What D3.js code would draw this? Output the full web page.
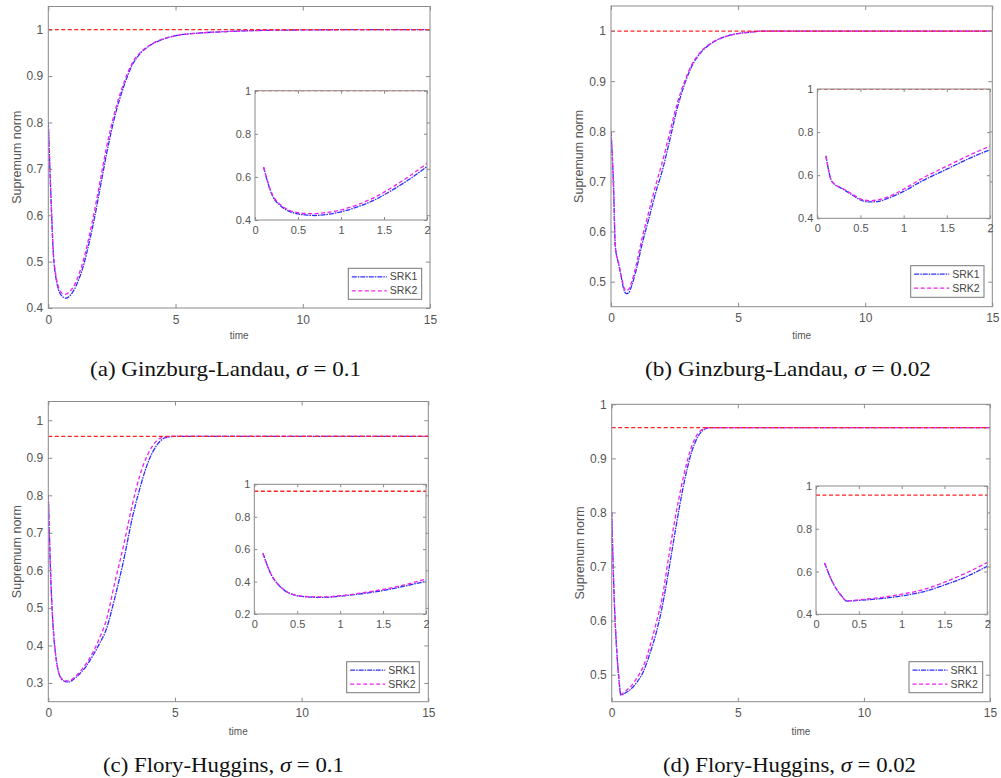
<!DOCTYPE html>
<html>
<head>
<meta charset="utf-8">
<title>Supremum norm</title>
<script src="https://d3js.org/d3.v7.min.js"></script>
<style>
  body { margin: 0; background: #fff; }
  svg { display: block; font-family: "Liberation Sans", Arial, sans-serif; }
  .box { fill: none; stroke: #8a8a8a; stroke-width: 1px; }
  .inset-bg { fill: #fff; }
  .axis line { stroke: #8a8a8a; }
  .axis text { fill: #555; }
  .srk1 { fill: none; stroke: #2e2eff; stroke-width: 1.3px; stroke-dasharray: 5 1 1.5 1; }
  .srk2 { fill: none; stroke: #f020f0; stroke-width: 1.3px; stroke-dasharray: 4 2.5; }
  .ref { fill: none; stroke: #ff2020; stroke-width: 1.3px; stroke-dasharray: 4 2.5; }
  .legend-box { fill: #fff; stroke: #777; stroke-width: 1px; }
  .legend text { fill: #444; font-size: 10.5px; }
  .ylabel { fill: #555; font-size: 12.5px; }
  .xlabel { fill: #555; font-size: 10px; }
  .caption { fill: #111; font-family: "Liberation Serif", "DejaVu Serif", serif; font-size: 22px; }
</style>
</head>
<body>
<svg></svg>
<script>
// ---- data ----
var timeA = [0, 0.1, 0.2, 0.3, 0.4, 0.5, 0.6, 0.7, 0.8, 1.0, 1.2, 1.4, 1.6, 1.8, 2.0, 2.3, 2.6, 3.0, 3.3, 3.6, 4.0, 4.5, 5, 6, 7, 8, 10, 12, 15];
var srk1A = [0.80, 0.645, 0.515, 0.465, 0.44, 0.428, 0.423, 0.421, 0.424, 0.438, 0.462, 0.495, 0.54, 0.59, 0.648, 0.735, 0.81, 0.883, 0.924, 0.948, 0.966, 0.979, 0.987, 0.993, 0.996, 0.998, 0.9995, 1.0, 1.0];
var srk2A = [0.80, 0.645, 0.52, 0.47, 0.445, 0.434, 0.43, 0.43, 0.433, 0.447, 0.472, 0.507, 0.553, 0.605, 0.663, 0.75, 0.82, 0.89, 0.928, 0.95, 0.967, 0.98, 0.987, 0.993, 0.996, 0.998, 0.9995, 1.0, 1.0];

var timeB = [0, 0.1, 0.17, 0.3, 0.4, 0.5, 0.6, 0.7, 0.8, 1.0, 1.2, 1.5, 1.8, 2.0, 2.3, 2.6, 2.9, 3.2, 3.5, 4.0, 4.5, 5.0, 5.5, 6, 8, 15];
var srk1B = [0.80, 0.69, 0.57, 0.535, 0.51, 0.485, 0.476, 0.478, 0.49, 0.525, 0.57, 0.628, 0.685, 0.718, 0.78, 0.845, 0.895, 0.932, 0.955, 0.977, 0.989, 0.995, 0.998, 1.0, 1.0, 1.0];
var srk2B = [0.80, 0.69, 0.57, 0.537, 0.513, 0.49, 0.482, 0.485, 0.497, 0.535, 0.582, 0.642, 0.70, 0.735, 0.795, 0.855, 0.90, 0.935, 0.957, 0.978, 0.989, 0.995, 0.998, 1.0, 1.0, 1.0];

var timeC = [0, 0.1, 0.2, 0.3, 0.4, 0.5, 0.6, 0.8, 1.0, 1.25, 1.5, 1.75, 2.0, 2.3, 2.6, 3.0, 3.3, 3.6, 3.95, 4.3, 4.6, 5.0, 6, 15];
var srk1C = [0.80, 0.575, 0.44, 0.37, 0.33, 0.312, 0.306, 0.302, 0.31, 0.325, 0.345, 0.372, 0.402, 0.445, 0.52, 0.635, 0.735, 0.815, 0.89, 0.935, 0.953, 0.957, 0.957, 0.957];
var srk2C = [0.80, 0.575, 0.44, 0.37, 0.331, 0.314, 0.308, 0.305, 0.313, 0.33, 0.352, 0.38, 0.416, 0.47, 0.56, 0.675, 0.77, 0.85, 0.912, 0.947, 0.956, 0.957, 0.957, 0.957];

var timeD = [0, 0.1, 0.2, 0.3, 0.36, 0.5, 0.75, 1.0, 1.25, 1.5, 1.75, 2.0, 2.25, 2.5, 2.84, 3.17, 3.5, 3.8, 4.0, 15];
var srk1D = [0.80, 0.64, 0.545, 0.485, 0.462, 0.465, 0.473, 0.486, 0.505, 0.537, 0.575, 0.625, 0.69, 0.76, 0.848, 0.912, 0.946, 0.956, 0.957, 0.957];
var srk2D = [0.80, 0.64, 0.545, 0.485, 0.463, 0.468, 0.478, 0.494, 0.515, 0.55, 0.593, 0.642, 0.715, 0.785, 0.865, 0.922, 0.95, 0.957, 0.957, 0.957];

var refLevels = [1, 1, 0.957, 0.957];
var yDomains = [[0.4, 1.05], [0.45, 1.05], [0.25, 1.05], [0.45, 1]];
var insetYDomains = [[0.4, 1], [0.4, 1], [0.2, 1], [0.4, 1]];
var xTicksMain = [0, 5, 10, 15];
var xTicksInset = [0, 0.5, 1, 1.5, 2];
var yTicksMain = [
  [0.4, 0.5, 0.6, 0.7, 0.8, 0.9, 1],
  [0.5, 0.6, 0.7, 0.8, 0.9, 1],
  [0.3, 0.4, 0.5, 0.6, 0.7, 0.8, 0.9, 1],
  [0.5, 0.6, 0.7, 0.8, 0.9, 1]
];
var yTicksInset = [[0.4, 0.6, 0.8, 1], [0.4, 0.6, 0.8, 1], [0.2, 0.4, 0.6, 0.8, 1], [0.4, 0.6, 0.8, 1]];
var captionPrefix = ["(a) Ginzburg-Landau, ", "(b) Ginzburg-Landau, ", "(c) Flory-Huggins, ", "(d) Flory-Huggins, "];
var sigmaValues = ["0.1", "0.02", "0.1", "0.02"];
var seriesNames = ["SRK1", "SRK2"];

// ---- layout conf. ----
var layout = [
  { main: [48.3, 6.5, 430, 308], inset: [255, 90.7, 427, 220], legend: [348.3, 268.3, 421.7, 299.3], ylabX: 17, timeY: 339, capY: 376, cap: [90, 361] },
  { main: [611, 6, 992.3, 306.7], inset: [817.3, 89, 990, 218.3], legend: [910.7, 265.7, 984, 297.3], ylabX: 579, timeY: 339, capY: 376, cap: [645, 931] },
  { main: [48.3, 401.5, 428.3, 701.7], inset: [254.3, 484.3, 426, 614], legend: [346.7, 661.7, 419.3, 692.7], ylabX: 17, timeY: 735, capY: 772, cap: [103, 344] },
  { main: [611.7, 404.3, 990, 701.7], inset: [816, 486, 987.3, 614.3], legend: [909, 661.7, 982.7, 692.7], ylabX: 580, timeY: 735, capY: 772, cap: [663, 916] }
];

var panels = [
  { t: timeA, s1: srk1A, s2: srk2A },
  { t: timeB, s1: srk1B, s2: srk2B },
  { t: timeC, s1: srk1C, s2: srk2C },
  { t: timeD, s1: srk1D, s2: srk2D }
];

var svg = d3.select("svg").attr("width", 1001).attr("height", 778);
var fmt = d3.format("~g");

function drawAxes(g, x, y, xt, yt, fontSize, pad, tick) {
  var defs = [
    [d3.axisBottom(x).tickValues(xt).tickFormat(fmt), y.range()[0], "x"],
    [d3.axisTop(x).tickValues(xt).tickFormat(""), y.range()[1], "x"],
    [d3.axisLeft(y).tickValues(yt).tickFormat(fmt), x.range()[0], "y"],
    [d3.axisRight(y).tickValues(yt).tickFormat(""), x.range()[1], "y"]
  ];
  defs.forEach(function (d) {
    var ax = d[0].tickSizeInner(-tick).tickSizeOuter(0).tickPadding(d[2] === "x" ? pad + 2 : pad);
    var a = g.append("g").attr("class", "axis")
      .attr("transform", d[2] === "x" ? "translate(0," + d[1] + ")" : "translate(" + d[1] + ",0)")
      .call(ax);
    a.select(".domain").remove();
    a.attr("font-family", null).attr("font-size", null);
    a.selectAll("text").style("font-size", fontSize + "px");
  });
  g.append("rect").attr("class", "box")
    .attr("x", x.range()[0]).attr("y", y.range()[1])
    .attr("width", x.range()[1] - x.range()[0])
    .attr("height", y.range()[0] - y.range()[1]);
}

function drawSeries(g, x, y, p, ref, tmin, tmax, clipId) {
  var line = d3.line().curve(d3.curveMonotoneX)
    .x(function (d) { return x(d[0]); })
    .y(function (d) { return y(d[1]); });
  var cg = g.append("g").attr("clip-path", "url(#" + clipId + ")");
  [["srk1", p.s1], ["srk2", p.s2]].forEach(function (s) {
    var pts = p.t.map(function (t, i) { return [t, s[1][i]]; })
      .filter(function (d) { return d[0] >= tmin - 1e-9 && d[0] <= tmax + 1e-9; });
    cg.append("path").attr("class", s[0]).attr("d", line(pts));
  });
  cg.append("path").attr("class", "ref")
    .attr("d", line([[x.domain()[0], ref], [x.domain()[1], ref]]));
}

panels.forEach(function (p, i) {
  var L = layout[i];
  var g = svg.append("g").attr("class", "panel");

  // main axes
  var x = d3.scaleLinear().domain([0, 15]).range([L.main[0], L.main[2]]);
  var y = d3.scaleLinear().domain(yDomains[i]).range([L.main[3], L.main[1]]);
  svg.append("clipPath").attr("id", "clipM" + i).append("rect")
    .attr("x", L.main[0]).attr("y", L.main[1])
    .attr("width", L.main[2] - L.main[0]).attr("height", L.main[3] - L.main[1]);
  drawSeries(g, x, y, p, refLevels[i], 0, 15, "clipM" + i);
  drawAxes(g, x, y, xTicksMain, yTicksMain[i], 12, 5, 4);

  g.append("text").attr("class", "ylabel")
    .attr("transform", "translate(" + [L.ylabX, (L.main[1] + L.main[3]) / 2] + ") rotate(-90)")
    .attr("text-anchor", "middle").attr("dy", "0.35em")
    .text("Supremum norm");
  g.append("text").attr("class", "xlabel")
    .attr("x", (L.main[0] + L.main[2]) / 2).attr("y", L.timeY)
    .attr("text-anchor", "middle").text("time");

  // inset
  var xi = d3.scaleLinear().domain([0, 2]).range([L.inset[0], L.inset[2]]);
  var yi = d3.scaleLinear().domain(insetYDomains[i]).range([L.inset[3], L.inset[1]]);
  g.append("rect").attr("class", "inset-bg")
    .attr("x", L.inset[0]).attr("y", L.inset[1])
    .attr("width", L.inset[2] - L.inset[0]).attr("height", L.inset[3] - L.inset[1]);
  svg.append("clipPath").attr("id", "clipI" + i).append("rect")
    .attr("x", L.inset[0]).attr("y", L.inset[1])
    .attr("width", L.inset[2] - L.inset[0]).attr("height", L.inset[3] - L.inset[1]);
  drawSeries(g, xi, yi, p, refLevels[i], 0.1, 2, "clipI" + i);
  drawAxes(g, xi, yi, xTicksInset, yTicksInset[i], 11, 4, 3);

  // legend
  var lg = g.append("g").attr("class", "legend");
  lg.append("rect").attr("class", "legend-box")
    .attr("x", L.legend[0]).attr("y", L.legend[1])
    .attr("width", L.legend[2] - L.legend[0]).attr("height", L.legend[3] - L.legend[1]);
  seriesNames.forEach(function (name, k) {
    var ly = L.legend[1] + 8.5 + k * 14;
    lg.append("line").attr("class", k === 0 ? "srk1" : "srk2")
      .attr("x1", L.legend[0] + 3.5).attr("x2", L.legend[0] + 38.5)
      .attr("y1", ly).attr("y2", ly);
    lg.append("text").attr("x", L.legend[0] + 41.5).attr("y", ly).attr("dy", "0.35em").text(name);
  });

  // caption
  var cap = svg.append("text").attr("class", "caption")
    .attr("x", L.cap[0]).attr("y", L.capY)
    .attr("textLength", L.cap[1] - L.cap[0]).attr("lengthAdjust", "spacingAndGlyphs");
  cap.append("tspan").text(captionPrefix[i]);
  cap.append("tspan").attr("font-style", "italic").text("σ");
  cap.append("tspan").text(" = " + sigmaValues[i]);
});
</script>
</body>
</html>
